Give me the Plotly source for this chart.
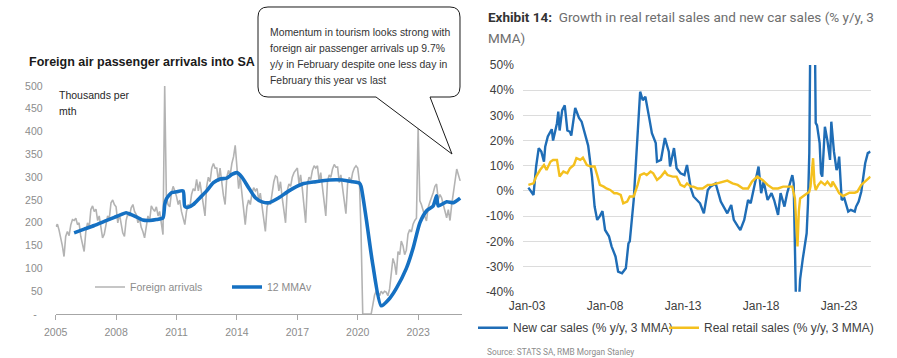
import pandas as pd
import plotly.graph_objects as go

W, H = 897, 358

# ---------------- Foreign air passenger arrivals (thousands per month) ----------------
arrivals_start = "2005-01-01"
foreign_arrivals = [
    192, 197, 185, 170, 150, 126, 170, 181, 172, 195, 207, 205,   # 2005
    210, 196, 200, 170, 152, 137, 180, 200, 190, 229, 237, 225,   # 2006
    230, 205, 215, 195, 167, 175, 200, 215, 210, 244, 250, 240,   # 2007
    235, 200, 220, 195, 178, 170, 205, 220, 215, 233, 240, 225,   # 2008
    218, 200, 210, 190, 181, 167, 195, 215, 205, 237, 230, 225,   # 2009
    235, 215, 225, 200, 174, 500, 260, 240, 235, 265, 280, 270,   # 2010
    258, 240, 250, 225, 210, 196, 225, 240, 235, 262, 275, 270,   # 2011
    295, 270, 290, 265, 240, 215, 280, 300, 290, 320, 330, 320,   # 2012
    320, 290, 320, 285, 260, 240, 300, 315, 305, 330, 345, 370,   # 2013
    320, 275, 300, 260, 230, 196, 235, 250, 240, 265, 277, 270,   # 2014
    275, 250, 265, 240, 210, 181, 235, 245, 240, 265, 290, 303,   # 2015
    300, 270, 290, 255, 225, 200, 270, 285, 280, 300, 310, 314,   # 2016
    320, 285, 305, 275, 240, 200, 285, 300, 295, 315, 325, 320,   # 2017
    325, 290, 310, 280, 245, 215, 290, 305, 300, 318, 328, 322,   # 2018
    322, 288, 305, 275, 240, 220, 285, 300, 290, 310, 320, 325,   # 2019
    320, 290, 180, 0, 0, 0, 0, 0, 0, 20, 41, 50,                  # 2020
    48, 40, 50, 45, 50, 48, 40, 55, 95, 122, 110, 86,             # 2021
    137, 130, 160, 150, 130, 140, 175, 185, 180, 197, 205, 210,   # 2022
    410, 248, 240, 225, 215, 204, 233, 245, 255, 266, 280, 285,   # 2023
    251, 262, 255, 240, 220, 211, 229, 205, 240, 270, 300, 318,   # 2024
    305, 292,                                                     # 2025
]
arrival_months = pd.date_range(arrivals_start, periods=len(foreign_arrivals), freq="MS")

ma_dates = [
    "2005-12", "2006-06", "2006-12", "2007-06", "2007-12", "2008-04", "2008-07",
    "2008-10", "2009-01", "2009-05", "2009-09", "2010-01", "2010-05", "2010-06",
    "2010-07", "2010-10", "2011-01", "2011-05", "2011-06", "2011-08", "2011-11",
    "2012-03", "2012-07", "2012-11", "2013-03", "2013-07", "2013-10", "2014-01",
    "2014-04", "2014-08", "2014-12", "2015-04", "2015-08", "2016-02", "2016-08",
    "2017-04", "2017-12", "2018-08", "2019-04", "2019-10", "2020-02", "2020-03",
    "2020-06", "2020-10", "2021-03", "2021-08", "2021-12", "2022-06", "2022-10",
    "2023-02", "2023-06", "2023-10", "2023-12", "2024-01", "2024-06", "2024-10",
    "2025-02",
]
ma_values = [
    178, 186, 194, 203, 212, 218, 222,
    218, 213, 206, 205, 207, 211, 240,
    252, 266, 268, 270, 236, 234, 240,
    255, 270, 288, 296, 298, 306, 310,
    300, 277, 255, 246, 244, 255, 270,
    285, 290, 294, 294, 290, 287, 280,
    211, 108, 18, 34, 56, 100, 144,
    200, 226, 237, 259, 237, 246, 244,
    254,
]

y_ticks_left = [0, 50, 100, 150, 200, 250, 300, 350, 400, 450, 500]
y_ticktext_left = ["-\u00a0\u00a0", "50", "100", "150", "200", "250", "300", "350", "400", "450", "500"]

# ---------------- New car sales and real retail sales (% y/y, 3MMA) ----------------
car_dates = [
    "2003-02", "2003-06", "2003-08", "2003-10", "2003-12", "2004-02", "2004-03",
    "2004-05", "2004-08", "2004-09", "2004-12", "2005-01", "2005-02", "2005-04",
    "2005-06", "2005-08", "2005-10", "2005-11", "2006-02", "2006-05", "2006-07",
    "2006-10", "2006-12", "2007-03", "2007-05", "2007-07", "2007-09", "2007-11",
    "2008-01", "2008-04", "2008-06", "2008-09", "2008-11", "2009-02", "2009-05",
    "2009-07", "2009-08", "2009-11", "2010-02", "2010-04", "2010-06", "2010-08",
    "2010-11", "2011-01", "2011-04", "2011-05", "2011-08", "2011-11", "2012-02",
    "2012-03", "2012-06", "2012-08", "2012-11", "2013-02", "2013-04", "2013-07",
    "2013-09", "2013-12", "2014-02", "2014-05", "2014-08", "2014-10", "2015-02",
    "2015-06", "2015-08", "2015-11", "2016-02", "2016-04", "2016-07", "2016-09",
    "2016-12", "2017-03", "2017-05", "2017-08", "2017-11", "2018-01", "2018-03",
    "2018-06", "2018-09", "2018-11", "2019-02", "2019-04", "2019-07", "2019-09",
    "2019-12", "2020-01", "2020-02", "2020-03", "2020-04", "2020-05", "2020-06",
    "2020-07", "2020-09", "2020-11", "2020-12", "2021-01", "2021-02", "2021-03",
    "2021-04", "2021-05", "2021-06", "2021-07", "2021-08", "2021-10", "2021-11",
    "2021-12", "2022-02", "2022-04", "2022-06", "2022-07", "2022-09", "2022-11",
    "2022-12", "2023-01", "2023-03", "2023-05", "2023-08", "2023-10", "2024-01",
    "2024-02", "2024-04", "2024-06", "2024-09", "2024-11", "2025-01",
]
car_growth = [
    1.3, -1.6, 9.7, 17.0, 15.6, 11.6, 17.6,
    21.6, 24.5, 20.0, 26.9, 31.5, 24.0, 32.0,
    34.0, 24.0, 23.5, 22.0, 33.0, 29.0, 27.5,
    21.5, 18.0, 5.7, -6.2, -11.5, -10.0, -8.0,
    -15.5, -18.0, -22.0, -26.0, -32.0, -32.7, -30.7,
    -20.8, -20.0, -3.6, 25.5, 39.4, 36.0, 37.4,
    28.8, 22.9, 19.0, 11.6, 12.3, 21.0, 15.6,
    9.7, 17.0, 9.0, 7.0, 6.3, 10.3, 1.0,
    -2.2, -3.6, -4.9, -8.9, 0.4, 1.7, 3.0,
    -4.2, -6.2, -8.9, -5.6, -11.5, -14.0, -15.5,
    -11.5, -3.6, -4.9, 3.0, 9.7, -0.9, 3.7,
    -3.6, -0.9, -3.6, -9.5, -0.9, -6.2, -0.9,
    4.4, 6.3, 3.0, -25.0, -70.0, -75.0, -45.0,
    -35.0, -27.0, -19.5, -16.8, -5.0, 15.0, 70.0,
    150.0, 140.0, 80.0, 27.0, 26.0, 19.0, 7.0,
    5.7, 25.5, 20.0, 12.3, 27.5, 15.6, 8.3,
    9.7, 13.6, -3.6, -2.9, -8.2, -7.5, -8.2,
    -6.2, -4.2, -0.3, 11.0, 15.0, 15.6,
]

retail_dates = [
    "2003-02", "2003-06", "2003-08", "2003-11", "2004-02", "2004-04", "2004-07",
    "2004-09", "2004-12", "2005-02", "2005-05", "2005-08", "2005-10", "2006-01",
    "2006-03", "2006-06", "2006-08", "2006-11", "2007-02", "2007-05", "2007-07",
    "2007-09", "2007-12", "2008-02", "2008-05", "2008-08", "2008-10", "2009-01",
    "2009-03", "2009-06", "2009-08", "2009-11", "2010-02", "2010-04", "2010-07",
    "2010-09", "2010-12", "2011-02", "2011-05", "2011-08", "2011-11", "2012-01",
    "2012-05", "2012-08", "2012-11", "2013-02", "2013-04", "2013-07", "2013-09",
    "2013-12", "2014-04", "2014-08", "2014-11", "2015-03", "2015-07", "2015-11",
    "2016-03", "2016-07", "2016-11", "2017-03", "2017-06", "2017-10", "2018-02",
    "2018-06", "2018-10", "2019-02", "2019-06", "2019-09", "2020-01", "2020-03",
    "2020-04", "2020-05", "2020-06", "2020-07", "2020-09", "2020-12", "2021-02",
    "2021-03", "2021-05", "2021-06", "2021-07", "2021-09", "2021-11", "2022-02",
    "2022-04", "2022-07", "2022-08", "2022-11", "2023-01", "2023-04", "2023-06",
    "2023-09", "2024-01", "2024-03", "2024-06", "2024-09", "2025-01",
]
retail_growth = [
    2.4, 3.0, 5.7, 8.3, 10.3, 8.3, 11.6,
    12.3, 12.3, 5.7, 7.7, 7.0, 9.0, 10.3,
    13.0, 12.3, 13.2, 10.3, 9.7, 9.7, 6.3,
    2.4, 1.7, 1.0, 0.4, -0.9, -0.9, -1.6,
    -4.9, -4.2, -2.2, -2.2, 2.4, 6.3, 7.0,
    6.3, 7.7, 7.0, 4.4, 5.7, 7.7, 6.3,
    5.7, 5.7, 2.4, 1.7, 3.0, 1.7, 1.7,
    1.0, 1.0, 2.4, 2.4, 3.0, 3.7, 4.1,
    3.0, 2.4, 1.0, 1.0, 3.7, 5.7, 4.4,
    2.4, 1.0, 1.0, 1.7, 1.7, 1.7, -3.0,
    -14.0, -22.0, -8.0, -3.0, -2.2, -0.9, -0.3,
    1.7, 13.0, 3.0, 0.4, 2.4, 3.7, 2.4,
    3.7, 1.7, 3.7, 1.0, -0.9, -2.0, -1.6,
    -0.7, -0.7, -0.3, 2.4, 3.7, 5.7,
]

y_ticks_right = [-40, -30, -20, -10, 0, 10, 20, 30, 40, 50]
y_ticktext_right = ["-40%", "-30%", "-20%", "-10%", "0%", "10%", "20%", "30%", "40%", "50%"]

callout_lines = [
    "Momentum in tourism looks strong with",
    "foreign air passenger arrivals up 9.7%",
    "y/y in February despite one less day in",
    "February this year vs last",
]

# ---------------- styling ----------------
ARIAL = "Liberation Sans, Arial, sans-serif"
ROBOTO = "Roboto, Liberation Sans, Arial, sans-serif"
BLUE_L = "#1570c2"
GREY_L = "#b3b3b3"
BLUE_R = "#1f6db6"
YELLOW = "#f4c01e"


def fx(px):
    return px / W


def fy(py):
    return 1 - py / H


fig = go.Figure()

fig.add_trace(go.Scatter(
    x=arrival_months, y=foreign_arrivals, mode="lines", name="Foreign arrivals",
    line=dict(color=GREY_L, width=1.6), xaxis="x", yaxis="y", legend="legend",
))
fig.add_trace(go.Scatter(
    x=ma_dates, y=ma_values, mode="lines", name="12 MMAv",
    line=dict(color=BLUE_L, width=3.6, shape="spline", smoothing=0.6),
    xaxis="x", yaxis="y", legend="legend",
))
fig.add_trace(go.Scatter(
    x=car_dates, y=car_growth, mode="lines", name="New car sales (% y/y, 3 MMA)",
    line=dict(color=BLUE_R, width=2.4), xaxis="x2", yaxis="y2", legend="legend2",
))
fig.add_trace(go.Scatter(
    x=retail_dates, y=retail_growth, mode="lines", name="Real retail sales (% y/y, 3 MMA)",
    line=dict(color=YELLOW, width=2.4), xaxis="x2", yaxis="y2", legend="legend2",
    legendwidth=185,
))

# speech-bubble callout (pixel coordinates of the outline)
r = 10
L_, R_, T_, B_ = 258, 460, 7, 97
pts = [
    ("M", (L_ + r, T_)), ("L", (R_ - r, T_)), ("Q", (R_, T_), (R_, T_ + r)),
    ("L", (R_, B_ - r)), ("Q", (R_, B_), (R_ - r, B_)), ("L", (430, B_)),
    ("L", (452, 154)), ("L", (376, B_)), ("L", (L_ + r, B_)),
    ("Q", (L_, B_), (L_, B_ - r)), ("L", (L_, T_ + r)), ("Q", (L_, T_), (L_ + r, T_)),
]
path = ""
for cmd, *coords in pts:
    path += cmd + " " + " ".join(f"{fx(a):.5f},{fy(b):.5f}" for a, b in coords) + " "
path += "Z"

shapes = [dict(type="path", path=path, xref="paper", yref="paper",
               fillcolor="white", line=dict(color="#1a1a1a", width=1), layer="above")]

annotations = [
    dict(text="<b>Foreign air passenger arrivals into SA</b>", x=fx(27), y=fy(62),
         font=dict(family=ARIAL, size=12.5, color="#1a1a1a")),
    dict(text="Thousands per", x=fx(57), y=fy(95), font=dict(family=ARIAL, size=10.5, color="#262626")),
    dict(text="mth", x=fx(57), y=fy(110.5), font=dict(family=ARIAL, size=10.5, color="#262626")),
    dict(text="<b>Exhibit 14:</b><span style='color:#6e6e6e'>\u00a0\u00a0Growth in real retail sales and new car sales (% y/y, 3</span>",
         x=fx(486), y=fy(17.5), font=dict(family=ROBOTO, size=13.5, color="#333333")),
    dict(text="MMA)", x=fx(486), y=fy(38), font=dict(family=ROBOTO, size=13.5, color="#6e6e6e")),
    dict(text="Source: STATS SA, RMB Morgan Stanley", x=fx(485), y=fy(352),
         font=dict(family=ROBOTO, size=8.3, color="#8c8c8c")),
]
for i, line in enumerate(callout_lines):
    annotations.append(dict(text=line, x=fx(268), y=fy(32 + i * 16.3),
                            font=dict(family=ARIAL, size=10.4, color="#333333")))
for a in annotations:
    a.update(xref="paper", yref="paper", xanchor="left", yanchor="middle", showarrow=False)

fig.update_layout(
    width=W, height=H, margin=dict(l=0, r=0, t=0, b=0, pad=0, autoexpand=False),
    paper_bgcolor="white", plot_bgcolor="rgba(0,0,0,0)",
    xaxis=dict(
        domain=[fx(55.7), fx(461.7)], range=["2005-01-01", "2025-03-01"],
        tick0="2005-01-01", dtick="M36", tickformat="%Y",
        showline=True, linecolor="#a6a6a6", linewidth=1,
        ticks="outside", ticklen=5, tickcolor="#a6a6a6", ticklabelstandoff=3,
        showgrid=False, zeroline=False, automargin=False,
        tickfont=dict(family=ARIAL, size=10.5, color="#8c8c8c"),
    ),
    yaxis=dict(
        domain=[fy(314), fy(86)], range=[0, 500],
        tickvals=y_ticks_left, ticktext=y_ticktext_left,
        showgrid=False, zeroline=False, showline=False, automargin=False,
        ticks="outside", ticklen=10, tickcolor="rgba(0,0,0,0)",
        tickfont=dict(family=ARIAL, size=10.5, color="#8c8c8c"),
    ),
    xaxis2=dict(
        domain=[fx(523.3), fx(870.7)], range=["2002-10-05", "2025-01-08"],
        tick0="2003-01-01", dtick="M60", tickformat="%b-%y",
        showline=False, showgrid=False, zeroline=False, automargin=False,
        ticks="outside", ticklen=3, tickcolor="rgba(0,0,0,0)", anchor="y2",
        tickfont=dict(family=ARIAL, size=12, color="#404040"),
    ),
    yaxis2=dict(
        domain=[fy(291.7), fy(65)], range=[-40, 50], anchor="x2",
        tickvals=y_ticks_right, ticktext=y_ticktext_right,
        showgrid=True, gridcolor="#dcdcdc", gridwidth=1.3, zeroline=False, showline=False,
        ticks="outside", ticklen=6, tickcolor="rgba(0,0,0,0)", automargin=False,
        tickfont=dict(family=ARIAL, size=12, color="#404040"),
    ),
    legend=dict(
        orientation="h", x=fx(90), y=fy(287), xanchor="left", yanchor="middle",
        entrywidth=92, entrywidthmode="pixels", bgcolor="rgba(0,0,0,0)",
        font=dict(family=ARIAL, size=10.5, color="#8c8c8c"),
    ),
    legend2=dict(
        orientation="h", x=fx(473), y=fy(327.7), xanchor="left", yanchor="middle",
        entrywidth=146, entrywidthmode="pixels", bgcolor="rgba(0,0,0,0)",
        font=dict(family=ARIAL, size=12, color="#404040"),
    ),
    shapes=shapes, annotations=annotations,
)

fig.write_html("out.html")
